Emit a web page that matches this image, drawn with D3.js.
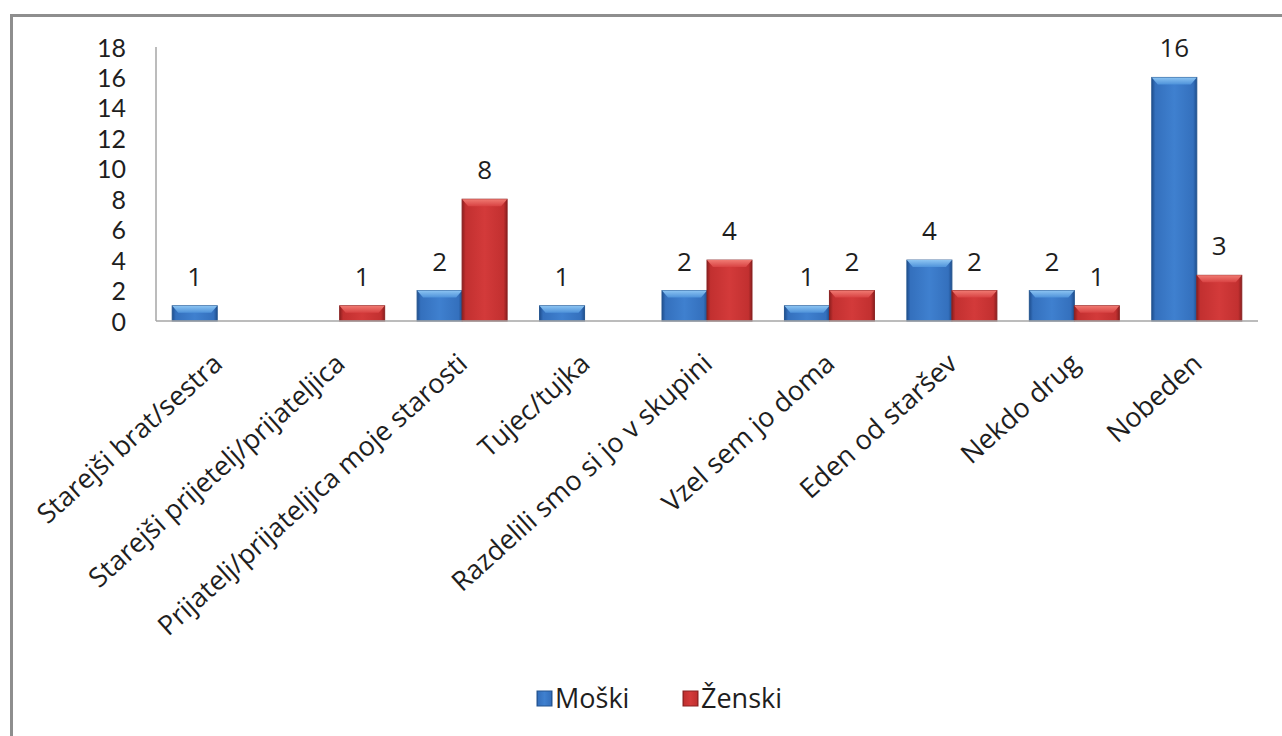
<!DOCTYPE html>
<html>
<head>
<meta charset="utf-8">
<script src="https://cdn.jsdelivr.net/npm/d3@7"></script>
<style>
  html, body { margin: 0; padding: 0; background: #fff; }
  svg { display: block; }
  text { font-family: "Open Sans", Lato, sans-serif; fill: #1e1e1e; }
</style>
</head>
<body>
<svg id="chart" width="1282" height="736"></svg>
<script>
const categories = [
  "Starejši brat/sestra",
  "Starejši prijetelj/prijateljica",
  "Prijatelj/prijateljica moje starosti",
  "Tujec/tujka",
  "Razdelili smo si jo v skupini",
  "Vzel sem jo doma",
  "Eden od staršev",
  "Nekdo drug",
  "Nobeden"
];
const seriesNames = ["Moški", "Ženski"];
const moski  = [1, 0, 2, 1, 2, 1, 4, 2, 16];
const zenski = [0, 1, 8, 0, 4, 2, 2, 1, 3];
const yTicks = [0, 2, 4, 6, 8, 10, 12, 14, 16, 18];

const svg = d3.select("#chart");
const plotL = 156, plotR = 1258, plotT = 47, plotB = 321;
const FONT = "'Open Sans', Lato, sans-serif";

// frame
svg.append("rect").attr("x", 11.5).attr("y", 15.5).attr("width", 1290).attr("height", 740)
  .attr("fill", "#fff").attr("stroke", "#8e8e8e").attr("stroke-width", 3);

const defs = svg.append("defs");
function grad(id, stops) {
  const g = defs.append("linearGradient").attr("id", id)
    .attr("x1", "0%").attr("x2", "100%").attr("y1", "0%").attr("y2", "0%");
  stops.forEach(s => g.append("stop").attr("offset", s[0]).attr("stop-color", s[1]));
}
grad("gBlue", [["0%", "#1f4f8f"], ["8%", "#3470bd"], ["50%", "#3f80cf"], ["92%", "#3470bd"], ["100%", "#1f4f8f"]]);
grad("gRed",  [["0%", "#8d1f1f"], ["8%", "#c23030"], ["50%", "#d33a3a"], ["92%", "#c23030"], ["100%", "#8d1f1f"]]);
function vgrad(id, c1, c2) {
  const g = defs.append("linearGradient").attr("id", id)
    .attr("x1", "0%").attr("x2", "0%").attr("y1", "0%").attr("y2", "100%");
  g.append("stop").attr("offset", "0%").attr("stop-color", c1);
  g.append("stop").attr("offset", "100%").attr("stop-color", c2);
}
vgrad("tBlue", "#8cc4f2", "#4e92da");
vgrad("tRed", "#f07a72", "#d84242");

const x0 = d3.scaleBand().domain(categories).range([plotL, plotR]).paddingInner(0.265).paddingOuter(0.1325);
const x1 = d3.scaleBand().domain(seriesNames).range([0, x0.bandwidth()]);
const y = d3.scaleLinear().domain([0, 18]).range([plotB, plotT]);

// y axis line
svg.append("line").attr("x1", plotL).attr("x2", plotL).attr("y1", y(18)).attr("y2", y(0))
  .attr("stroke", "#a6a6a6").attr("stroke-width", 1.5);

// y tick labels
const yAxis = d3.axisLeft(y).tickValues(yTicks).tickSize(0).tickPadding(0);
const ya = svg.append("g").attr("transform", `translate(${plotL - 30},0)`).call(yAxis);
ya.select(".domain").remove();
ya.selectAll("text").style("font-size", "25px").attr("fill", "#1e1e1e")
  .style("font-family", "Lato, 'Open Sans', sans-serif").attr("dy", "0.36em");

const data = categories.map((c, i) => ({ cat: c, vals: [
  { s: "Moški", v: moski[i], fill: "url(#gBlue)", topFill: "url(#tBlue)", edge: "#24558f" },
  { s: "Ženski", v: zenski[i], fill: "url(#gRed)", topFill: "url(#tRed)", edge: "#8a2222" }
]}));

const groups = svg.append("g").selectAll("g").data(data).join("g")
  .attr("transform", d => `translate(${x0(d.cat)},0)`);

const bars = groups.selectAll("g.bar").data(d => d.vals.filter(v => v.v > 0)).join("g").attr("class", "bar");
bars.append("rect")
  .attr("x", d => x1(d.s)).attr("width", x1.bandwidth())
  .attr("y", d => y(d.v)).attr("height", d => y(0) - y(d.v))
  .attr("fill", d => d.fill).attr("stroke", d => d.edge).attr("stroke-width", 1);
// top bevel
bars.append("path")
  .attr("d", d => {
    const xa = x1(d.s), w = x1.bandwidth(), yt = y(d.v);
    const b = Math.min(7, (y(0) - yt) / 2);
    return `M${xa},${yt} L${xa + w},${yt} L${xa + w - 6},${yt + b} L${xa + 6},${yt + b} Z`;
  })
  .attr("fill", d => d.topFill);
// value labels
bars.append("text")
  .attr("x", d => x1(d.s) + x1.bandwidth() / 2)
  .attr("y", d => y(d.v) - 20)
  .attr("text-anchor", "middle")
  .style("font-size", "26px")
  .text(d => d.v);

// baseline
svg.append("line").attr("x1", plotL).attr("x2", plotR).attr("y1", y(0)).attr("y2", y(0))
  .attr("stroke", "#a6a6a6").attr("stroke-width", 1.5);

// x labels
const xAxis = d3.axisBottom(x0).tickSize(0).tickPadding(0);
const xa = svg.append("g").attr("transform", `translate(0,${plotB})`).call(xAxis);
xa.select(".domain").remove();
xa.selectAll("text")
  .style("font-size", "27px").attr("fill", "#1e1e1e")
  .style("font-family", FONT)
  .attr("text-anchor", "end").attr("dy", "0")
  .attr("y", 0).attr("x", 0)
  .attr("transform", "translate(7,45) rotate(-42)");

// legend
const legend = svg.append("g").attr("transform", "translate(537,698)");
const litems = [
  { name: seriesNames[0], fill: "url(#gBlue)", edge: "#24558f", x: 0 },
  { name: seriesNames[1], fill: "url(#gRed)", edge: "#8a2222", x: 146 }
];
const li = legend.selectAll("g").data(litems).join("g").attr("transform", d => `translate(${d.x},0)`);
li.append("rect").attr("x", 0).attr("y", -7).attr("width", 15).attr("height", 15)
  .attr("fill", d => d.fill).attr("stroke", d => d.edge);
li.append("text").attr("x", 18).attr("y", 0).attr("dy", "0.36em")
  .style("font-size", "27px").text(d => d.name);
</script>
</body>
</html>
